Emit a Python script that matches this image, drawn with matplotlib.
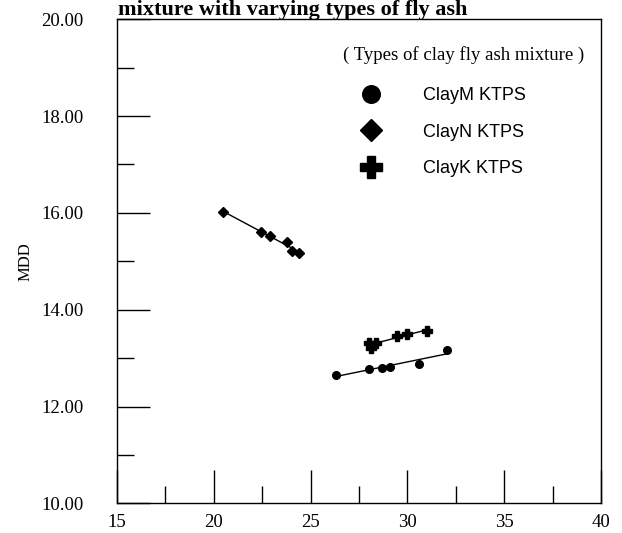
import numpy as np
import matplotlib
matplotlib.use("Agg")
import matplotlib.pyplot as plt
from matplotlib.lines import Line2D

plt.rcParams["font.family"] = ["Liberation Serif", "DejaVu Serif"]

# data
clay_m_x = [26.3, 28.0, 28.7, 29.1, 30.6, 32.05]
clay_m_y = [12.65, 12.78, 12.80, 12.82, 12.88, 13.17]
clay_n_x = [20.5, 22.45, 22.9, 23.8, 24.05, 24.4]
clay_n_y = [16.02, 15.60, 15.53, 15.40, 15.22, 15.17]
clay_k_x = [28.0, 28.4, 28.1, 29.45, 30.0, 31.0]
clay_k_y = [13.32, 13.32, 13.20, 13.46, 13.49, 13.56]

series = [
    ("ClayM KTPS", clay_m_x, clay_m_y, "o", 5.5),
    ("ClayN KTPS", clay_n_x, clay_n_y, "D", 4.8),
    ("ClayK KTPS", clay_k_x, clay_k_y, "P", 7),
]

fig = plt.figure(figsize=(6.22, 5.33), dpi=100)
ax = fig.add_axes([0.1881, 0.0557, 0.7781, 0.9081])

handles = []
for name, xs, ys, mk, ms in series:
    xs = np.array(xs)
    ys = np.array(ys)
    # linear trend line over the data range
    k, b = np.polyfit(xs, ys, 1)
    xl = np.array([xs.min(), xs.max()])
    ax.plot(xl, k * xl + b, color="black", lw=1)
    ax.plot(xs, ys, linestyle="none", marker=mk, ms=ms, color="black")
    handles.append(Line2D([], [], linestyle="none", marker=mk, color="black",
                          ms=ms * 2.3, label=name))

ax.set_xlim(15, 40)
ax.set_ylim(10, 20)
ax.set_xticks([15, 20, 25, 30, 35, 40])
ax.set_xticks([17.5, 22.5, 27.5, 32.5, 37.5], minor=True)
ax.set_yticks([10, 12, 14, 16, 18, 20])
ax.set_yticks([11, 13, 15, 17, 19], minor=True)
ax.set_yticklabels(["%.2f" % v for v in [10, 12, 14, 16, 18, 20]])
ax.tick_params(which="major", direction="in", length=24, width=1, labelsize=13.5)
ax.tick_params(which="minor", direction="in", length=12, width=1)
ax.tick_params(axis="x", which="major", pad=8)
ax.tick_params(axis="y", which="major", pad=24)
for s in ax.spines.values():
    s.set_linewidth(1)

ax.set_ylabel("MDD", fontsize=12)
ax.yaxis.set_label_coords(-0.172, 0.5)

ax.text(0.717, 0.926, "( Types of clay fly ash mixture )", transform=ax.transAxes,
        ha="center", va="center", fontsize=13.5)
ax.legend(handles=handles, loc="upper left", bbox_to_anchor=(0.4876, 0.86),
          frameon=False, prop={"family": "Liberation Sans", "size": 13},
          labelspacing=1.08, handlelength=2.0, handletextpad=1.9,
          borderpad=0, borderaxespad=0)

fig.text(0.47, 1 - 15 / 533, "mixture with varying types of fly ash",
         ha="center", va="baseline", fontsize=16, fontweight="bold")

fig.savefig("out.png", dpi=100)
